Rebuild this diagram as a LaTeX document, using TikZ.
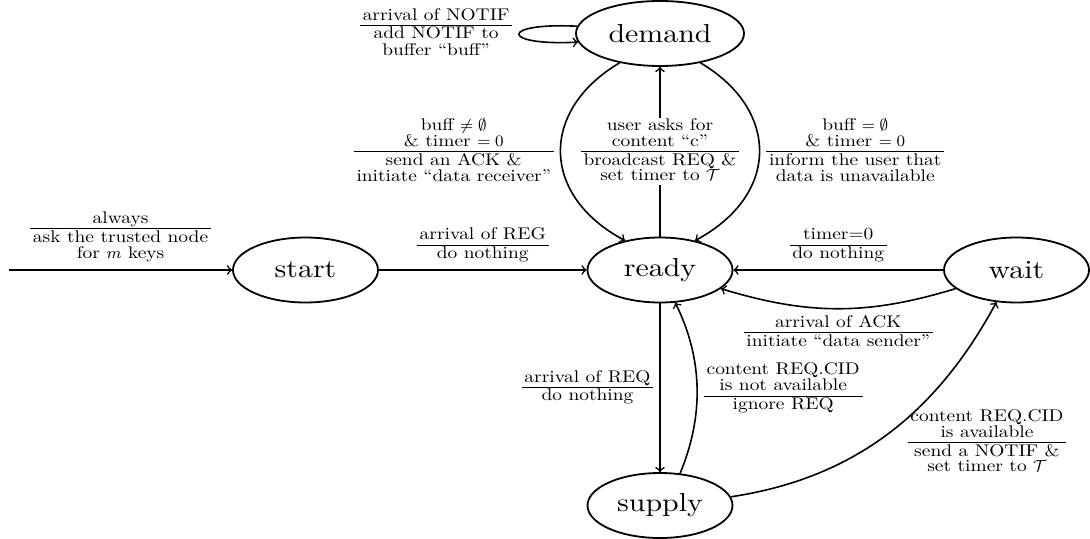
\documentclass[tikz,border=0pt]{standalone}
\usepackage{amsmath}
\usepackage{fontspec}
\setmainfont{lmroman10-regular.otf}[FakeStretch=1.15]
\usetikzlibrary{shapes.geometric}
\newcommand{\tlab}[2]{\begin{tabular}{@{\hspace{1.4pt}}c@{\hspace{1.4pt}}}#1\\\hline\rule{0pt}{6.6pt}#2\end{tabular}}
\begin{document}
\begin{tikzpicture}[x=0.5pt,y=-0.5pt,
  state/.style={ellipse,draw,line width=0.9pt,minimum width=72.5pt,minimum height=32.5pt,inner sep=2pt,font=\fontsize{13}{15}\selectfont},
  lbl/.style={font=\fontsize{8.45}{7.7}\selectfont,inner sep=3pt},
  edge/.style={->,line width=0.8pt}]
\useasboundingbox (0,0) rectangle (1090,539);
\node[state,minimum width=84pt] (demand) at (660,33.5) {demand};
\node[state] (ready) at (660,270) {ready};
\node[state] (start) at (305.5,270) {start};
\node[state] (wait) at (1016.5,270) {wait};
\node[state] (supply) at (660,505.5) {supply};
\coordinate (init) at (9,270);

\draw[edge] (init) -- node[lbl,above] {\tlab{always}{ask the trusted node\\for $m$ keys}} (start);
\draw[edge] (start) -- node[lbl,above] {\tlab{arrival of REG}{do nothing}} (ready);
\draw[edge] (wait) -- node[lbl,above] {\tlab{timer=0}{do nothing}} (ready);
\draw[edge] (wait) to[bend left=17] node[lbl,below] {\tlab{arrival of ACK}{initiate ``data sender''}} (ready);
\draw[edge] (ready) -- node[lbl,fill=white,inner xsep=1pt,inner ysep=0pt] {\tlab{user asks for\\content ``c''}{broadcast REQ \&\\set timer to $\mathcal{T}$}} (demand);
\draw[edge] (demand.216) .. controls (540,110) and (540,195) .. node[lbl,left] {\tlab{buff $\neq\emptyset$\\\& timer $=0$}{send an ACK \&\\initiate ``data receiver''}} (ready.140);
\draw[edge] (demand.324) .. controls (780,110) and (780,195) .. node[lbl,right] {\tlab{buff $=\emptyset$\\\& timer $=0$}{inform the user that\\data is unavailable}} (ready.40);
\draw[edge] (demand.175) .. controls +(-78,-4) and +(-78,4) .. node[lbl,left] {\tlab{arrival of NOTIF}{add NOTIF to\\buffer ``buff''}} (demand.186);
\draw[edge] (ready) -- node[lbl,left] {\tlab{arrival of REQ}{do nothing}} (supply);
\draw[edge] (supply.58) .. controls (703.5,417) and (703.5,360) .. node[lbl,right] {\tlab{content REQ.CID\\is not available}{ignore REQ}} (ready.295);
\draw[edge] (supply.7) .. controls (856,478) and (937,412) .. (wait.238);
\node[lbl] (lsw) at (987,443) {\tlab{content REQ.CID\\is available}{send a NOTIF \&\\set timer to $\mathcal{T}$}};
\end{tikzpicture}
\end{document}
